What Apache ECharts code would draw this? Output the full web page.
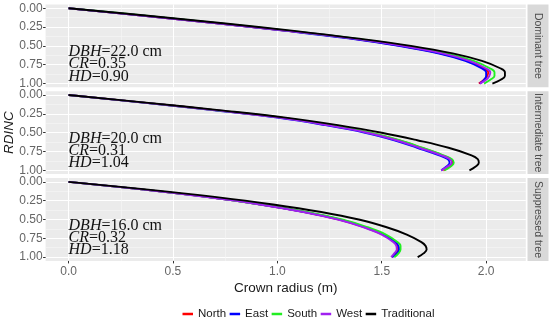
<!DOCTYPE html>
<html><head><meta charset="utf-8">
<script src="https://cdn.jsdelivr.net/npm/echarts@6.0.0/dist/echarts.min.js"></script>
<style>html,body{margin:0;padding:0;background:#fff}#c{width:550px;height:325px}</style>
</head><body><div id="c"></div>
<script>
// ---- data ----
const rdinc = [0, 0.1, 0.2, 0.3, 0.4, 0.5, 0.6, 0.7, 0.8, 0.85, 0.9, 0.95, 1.0];
const directions = ['North', 'East', 'South', 'West', 'Traditional'];
const panels = ['Dominant tree', 'Intermediate tree', 'Suppressed tree'];

const domNorth = [0, 0.36, 0.71, 1.045, 1.35, 1.59, 1.78, 1.91, 1.99, 2.01, 2.005, 1.99, 1.965];
const domEast  = [0, 0.36, 0.71, 1.04, 1.34, 1.58, 1.77, 1.90, 1.98, 2.00, 2.00, 1.99, 1.97];
const domSouth = [0, 0.37, 0.72, 1.06, 1.37, 1.62, 1.81, 1.94, 2.02, 2.04, 2.04, 2.02, 1.99];
const domWest  = [0, 0.36, 0.71, 1.05, 1.36, 1.60, 1.79, 1.92, 2.00, 2.02, 2.015, 2.00, 1.97];
const domTrad  = [0, 0.38, 0.74, 1.08, 1.38, 1.64, 1.84, 1.98, 2.07, 2.09, 2.09, 2.07, 2.03];

const intNorth = [0, 0.36, 0.70, 1.02, 1.25, 1.44, 1.58, 1.69, 1.79, 1.83, 1.84, 1.825, 1.795];
const intEast  = [0, 0.355, 0.69, 1.00, 1.23, 1.42, 1.56, 1.67, 1.775, 1.815, 1.825, 1.81, 1.785];
const intSouth = [0, 0.36, 0.70, 1.02, 1.255, 1.445, 1.585, 1.695, 1.795, 1.835, 1.845, 1.83, 1.80];
const intWest  = [0, 0.36, 0.70, 1.01, 1.24, 1.43, 1.57, 1.68, 1.785, 1.825, 1.835, 1.815, 1.785];
const intTrad  = [0, 0.37, 0.72, 1.04, 1.29, 1.50, 1.67, 1.82, 1.93, 1.96, 1.965, 1.95, 1.92];

const supNorth = [0, 0.35, 0.66, 0.92, 1.13, 1.295, 1.415, 1.505, 1.56, 1.575, 1.578, 1.567, 1.548];
const supEast  = [0, 0.35, 0.66, 0.92, 1.13, 1.30, 1.42, 1.51, 1.565, 1.58, 1.583, 1.572, 1.55];
const supSouth = [0, 0.35, 0.66, 0.92, 1.14, 1.31, 1.43, 1.52, 1.575, 1.59, 1.59, 1.58, 1.56];
const supWest  = [0, 0.35, 0.655, 0.915, 1.125, 1.29, 1.41, 1.50, 1.555, 1.57, 1.572, 1.56, 1.545];
const supTrad  = [0, 0.37, 0.70, 0.98, 1.21, 1.39, 1.52, 1.62, 1.69, 1.71, 1.715, 1.70, 1.672];

const annoDBH = ['22.0', '20.0', '16.0'];
const annoCR  = ['0.35', '0.31', '0.32'];
const annoHD  = ['0.90', '1.04', '1.18'];

const xTicks = [0, 0.5, 1.0, 1.5, 2.0];
const xMinor = [0.25, 0.75, 1.25, 1.75];
const yTicks = [0, 0.25, 0.5, 0.75, 1.0];
const yMinor = [0.125, 0.375, 0.625, 0.875];

// ---- build ----
const panelData = [
  [domNorth, domEast, domSouth, domWest, domTrad],
  [intNorth, intEast, intSouth, intWest, intTrad],
  [supNorth, supEast, supSouth, supWest, supTrad]
];
const colors = ['#FF0000', '#0000FF', '#22EE22', '#A020F0', '#000000'];

const LEFT = 45.6, W = 480.2, H = 82.8;
const tops = [4.5, 91.3, 178.1];
const XMIN = -0.11, XMAX = 2.19, YMIN = -0.05, YMAX = 1.05;

const grids = tops.map(t => ({left: LEFT, top: t, width: W, height: H, show: true,
  backgroundColor: '#EBEBEB', borderWidth: 0, containLabel: false, outerBoundsMode: 'none'}));

const xAxes = [], yAxes = [];
for (let i = 0; i < 3; i++) {
  const bottom = i === 2;
  xAxes.push({
    gridIndex: i, type: 'value', min: XMIN, max: XMAX, position: 'bottom',
    axisLine: {show: false, onZero: false},
    axisTick: {show: bottom, length: 2.5, lineStyle: {color: '#333', width: 1}, customValues: xTicks},
    axisLabel: {show: bottom, customValues: xTicks, formatter: v => v.toFixed(1),
      color: '#666', fontSize: 12, margin: 5, fontFamily: 'Liberation Sans'},
    splitLine: {show: true, lineStyle: {color: '#ffffff', width: 1.1}},
    name: bottom ? 'Crown radius (m)' : '', nameLocation: 'middle', nameGap: 20,
    nameMoveOverlap: false,
    nameTextStyle: {color: '#1a1a1a', fontSize: 13.5, fontFamily: 'Liberation Sans'}
  });
  yAxes.push({
    gridIndex: i, type: 'value', min: YMIN, max: YMAX, inverse: true, position: 'left',
    axisLine: {show: false, onZero: false},
    axisTick: {show: true, length: 2.5, lineStyle: {color: '#333', width: 1}, customValues: yTicks},
    axisLabel: {customValues: yTicks, formatter: v => v.toFixed(2),
      color: '#666', fontSize: 12, margin: 3, fontFamily: 'Liberation Sans'},
    splitLine: {show: true, lineStyle: {color: '#ffffff', width: 1.1}},
    name: i === 1 ? 'RDINC' : '', nameLocation: 'middle', nameGap: 29.5,
    nameMoveOverlap: false,
    nameTextStyle: {color: '#1a1a1a', fontSize: 13.5, fontStyle: 'italic', fontFamily: 'Liberation Sans'}
  });
}
for (let i = 0; i < 3; i++) {
  xAxes.push({
    gridIndex: i, type: 'value', min: XMIN, max: XMAX, position: 'top',
    axisLine: {show: false, onZero: false}, axisTick: {show: false, customValues: xMinor},
    axisLabel: {show: false, customValues: xMinor},
    splitLine: {show: true, lineStyle: {color: '#f7f7f7', width: 0.6}}
  });
  yAxes.push({
    gridIndex: i, type: 'value', min: YMIN, max: YMAX, inverse: true, position: 'right',
    axisLine: {show: false, onZero: false}, axisTick: {show: false, customValues: yMinor},
    axisLabel: {show: false, customValues: yMinor},
    splitLine: {show: true, lineStyle: {color: '#f7f7f7', width: 0.6}}
  });
}

const series = [];
for (let p = 0; p < 3; p++) {
  directions.forEach((d, k) => {
    series.push({
      type: 'line', name: d, xAxisIndex: p, yAxisIndex: p,
      data: rdinc.map((r, j) => [panelData[p][k][j], r]),
      showSymbol: false, smooth: 0.4, silent: true,
      lineStyle: {width: 1.9, color: colors[k]}, itemStyle: {color: colors[k]}
    });
  });
}

const chart = echarts.init(document.getElementById('c'), null, {renderer: 'canvas'});
chart.setOption({
  animation: false,
  backgroundColor: '#ffffff',
  grid: grids, xAxis: xAxes, yAxis: yAxes, series: series,
  legend: {
    data: directions, left: 182.5, top: 308, padding: 0, itemWidth: 10.5, itemHeight: 2.5, itemGap: 3.5,
    icon: 'rect', textStyle: {color: '#1a1a1a', fontSize: 11.5, fontFamily: 'Liberation Sans'}
  }
});

// strips and annotations
const graphics = [];
for (let p = 0; p < 3; p++) {
  graphics.push({type: 'rect', shape: {x: 527.5, y: tops[p], width: 21, height: H},
    style: {fill: '#D9D9D9'}, silent: true});
  graphics.push({type: 'text', x: 538, y: tops[p] + H / 2, rotation: -Math.PI / 2,
    style: {text: panels[p], fill: '#4d4d4d', fontSize: 10.5, fontFamily: 'Liberation Sans',
      align: 'center', verticalAlign: 'middle'}, silent: true});
  const pt = chart.convertToPixel({xAxisIndex: p, yAxisIndex: p}, [0, 0.578]);
  const lh = 12.3;
  graphics.push({type: 'text', x: pt[0], y: pt[1] - lh / 2, silent: true,
    style: {
      text: '{i|DBH}{n|=' + annoDBH[p] + ' cm}\n{i|CR}{n|=' + annoCR[p] + '}\n{i|HD}{n|=' + annoHD[p] + '}',
      align: 'left', verticalAlign: 'top',
      rich: {
        i: {fontStyle: 'italic', fontFamily: 'Liberation Serif', fontSize: 16, lineHeight: lh, fill: '#111'},
        n: {fontFamily: 'Liberation Serif', fontSize: 16, lineHeight: lh, fill: '#111'}
      }
    }});
}
chart.setOption({graphic: graphics});
</script>
</body></html>
